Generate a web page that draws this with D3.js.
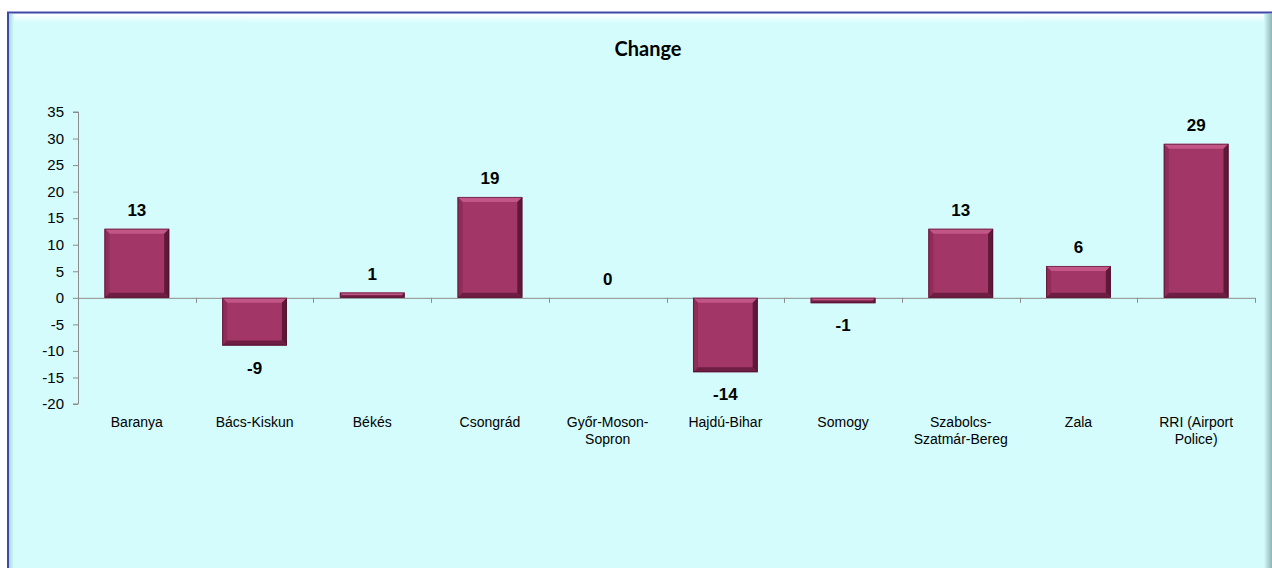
<!DOCTYPE html>
<html><head><meta charset="utf-8">
<script src="https://cdn.jsdelivr.net/npm/d3@7"></script>
<style>body{margin:0;background:#fff;}svg{display:block;}</style>
</head><body>
<svg id="c" width="1272" height="568"></svg>
<script>
const categories = ["Baranya","Bács-Kiskun","Békés","Csongrád","Győr-Moson-Sopron","Hajdú-Bihar","Somogy","Szabolcs-Szatmár-Bereg","Zala","RRI (Airport Police)"];
const categoryLines = [["Baranya"],["Bács-Kiskun"],["Békés"],["Csongrád"],["Győr-Moson-","Sopron"],["Hajdú-Bihar"],["Somogy"],["Szabolcs-","Szatmár-Bereg"],["Zala"],["RRI (Airport","Police)"]];
const values = [13,-9,1,19,0,-14,-1,13,6,29];
const yTicks = [35,30,25,20,15,10,5,0,-5,-10,-15,-20];
const title = "Change";

(function(){
const svg = d3.select("#c");
const defs = svg.append("defs");
const fg = defs.append("linearGradient").attr("id","topHi").attr("x1",0).attr("y1",0).attr("x2",0).attr("y2",1);
fg.append("stop").attr("offset",0).attr("stop-color","#ffffff");
fg.append("stop").attr("offset",1).attr("stop-color","#d4fcfc");
const rg = defs.append("linearGradient").attr("id","rightSh").attr("x1",0).attr("y1",0).attr("x2",1).attr("y2",0);
rg.append("stop").attr("offset",0).attr("stop-color","#d4fcfc");
rg.append("stop").attr("offset",1).attr("stop-color","#8fb4b6");
const lg = defs.append("linearGradient").attr("id","leftSh").attr("x1",0).attr("y1",0).attr("x2",1).attr("y2",0);
lg.append("stop").attr("offset",0).attr("stop-color","#a9dadb");
lg.append("stop").attr("offset",1).attr("stop-color","#d4fcfc");

svg.append("rect").attr("x",7).attr("y",12).attr("width",1270).attr("height",560).attr("fill","#d4fcfc");
svg.append("rect").attr("x",9).attr("y",14).attr("width",1262).attr("height",9).attr("fill","url(#topHi)");
svg.append("rect").attr("x",9).attr("y",14).attr("width",5).attr("height",556).attr("fill","url(#leftSh)");
svg.append("rect").attr("x",1264).attr("y",14).attr("width",8).attr("height",556).attr("fill","url(#rightSh)");
svg.append("line").attr("x1",7).attr("x2",1272).attr("y1",12.5).attr("y2",12.5).attr("stroke","#4348a8").attr("stroke-width",2);
svg.append("line").attr("x1",8).attr("x2",8).attr("y1",12).attr("y2",568).attr("stroke","#4348a8").attr("stroke-width",2);

const pLeft = 78, pRight = 1255, pTop = 112, pBottom = 404;
const x = d3.scaleBand().domain(categories).range([pLeft,pRight]).paddingInner(0.45).paddingOuter(0.225);
const y = d3.scaleLinear().domain([-20,35]).range([pBottom,pTop]);
const font = "'Liberation Sans', Arial, sans-serif";

svg.append("text").attr("x",648).attr("y",56).attr("text-anchor","middle")
  .attr("font-family","Lato, 'Open Sans', sans-serif").attr("font-weight","bold").attr("font-size",20).attr("fill","#000").text(title);

const yAxis = svg.append("g").attr("transform",`translate(${pLeft},0)`)
  .call(d3.axisLeft(y).tickValues(yTicks).tickSize(5).tickPadding(9).tickFormat(d=>String(d)));
yAxis.select(".domain").attr("stroke","#8c8c8c").attr("d",`M-5,${y(35)}H0.5V${y(-20)}H-5`);
yAxis.selectAll(".tick line").attr("stroke","#8c8c8c");
yAxis.selectAll("text").attr("font-family",font).attr("font-size",15).attr("fill","#000");

const x0 = y(0);
const xAxis = svg.append("g").attr("transform",`translate(0,${x0})`);
xAxis.append("line").attr("x1",pLeft).attr("x2",pRight).attr("y1",0.5).attr("y2",0.5).attr("stroke","#8c8c8c");
const step = x.step();
const bounds = categories.map((c,i)=> pLeft + (i+1)*step);
xAxis.selectAll("line.tk").data(bounds).enter().append("line")
  .attr("x1",d=>Math.round(d)+0.5).attr("x2",d=>Math.round(d)+0.5).attr("y1",0).attr("y2",5).attr("stroke","#8c8c8c");

const bw = x.bandwidth();
const bev = 5;
const g = svg.append("g");
categories.forEach((c,i)=>{
  const v = values[i];
  if (v === 0) return;
  const x1 = x(c), x2 = x1 + bw;
  const yt = Math.min(y(v), y(0)), yb = Math.max(y(v), y(0));
  const h = yb - yt;
  const b = Math.min(bev, h/2);
  g.append("rect").attr("x",x1).attr("y",yt).attr("width",bw).attr("height",h).attr("fill","#a23667");
  if (h > 3) {
    g.append("polygon").attr("points",`${x1},${yt} ${x2},${yt} ${x2-b},${yt+b} ${x1+b},${yt+b}`).attr("fill","#c25686");
    g.append("polygon").attr("points",`${x1},${yt} ${x1+b},${yt+b} ${x1+b},${yb-b} ${x1},${yb}`).attr("fill","#8f2c58");
    g.append("polygon").attr("points",`${x2},${yt} ${x2},${yb} ${x2-b},${yb-b} ${x2-b},${yt+b}`).attr("fill","#5e1838");
    g.append("polygon").attr("points",`${x1},${yb} ${x2},${yb} ${x2-b},${yb-b} ${x1+b},${yb-b}`).attr("fill","#6f1e43");
  }
  g.append("rect").attr("x",x1+0.5).attr("y",yt+0.5).attr("width",bw-1).attr("height",Math.max(h-1,0)).attr("fill","none").attr("stroke","#4a1029").attr("stroke-opacity",0.6);
});

svg.append("g").selectAll("text").data(values).enter().append("text")
  .attr("x",(d,i)=>x(categories[i])+bw/2)
  .attr("y",d=> d>=0 ? y(d)-13 : y(d)+28)
  .attr("text-anchor","middle").attr("font-family",font)
  .attr("font-weight","bold").attr("font-size",17).attr("fill","#000").text(d=>String(d));

const cl = svg.append("g");
categories.forEach((c,i)=>{
  const t = cl.append("text").attr("x",x(c)+bw/2).attr("y",427).attr("text-anchor","middle")
    .attr("font-family",font).attr("font-size",14).attr("fill","#000");
  categoryLines[i].forEach((ln,j)=> t.append("tspan").attr("x",x(c)+bw/2).attr("dy", j===0?0:17).text(ln));
});
})();
</script>
</body></html>
